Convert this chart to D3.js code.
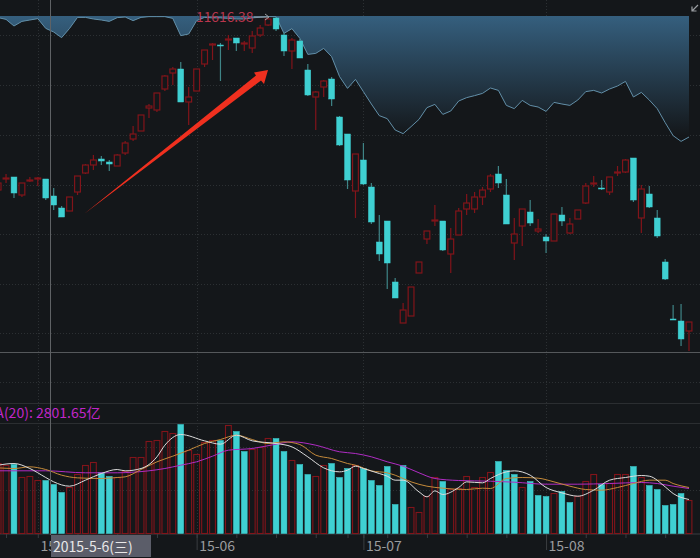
<!DOCTYPE html>
<html>
<head>
<meta charset="utf-8">
<script src="https://cdn.jsdelivr.net/npm/d3@7"></script>
<style>
html, body { margin: 0; padding: 0; background: #14171a; overflow: hidden; }
svg { display: block; font-family: "Noto Sans CJK SC", "Noto Sans", sans-serif; }
</style>
</head>
<body>
<svg></svg>
<script>
var width = 700;
var height = 558;

// trading days, the first two are cut by the left edge
var dates = ["04-24", "04-27", "04-28", "04-29", "04-30", "05-04", "05-05", "05-06", "05-07", "05-08",
    "05-11", "05-12", "05-13", "05-14", "05-15", "05-18", "05-19", "05-20", "05-21", "05-22",
    "05-25", "05-26", "05-27", "05-28", "05-29", "06-01", "06-02", "06-03", "06-04", "06-05",
    "06-08", "06-09", "06-10", "06-11", "06-12", "06-15", "06-16", "06-17", "06-18", "06-19",
    "06-23", "06-24", "06-25", "06-26", "06-29", "06-30", "07-01", "07-02", "07-03", "07-06",
    "07-07", "07-08", "07-09", "07-10", "07-13", "07-14", "07-15", "07-16", "07-17", "07-20",
    "07-21", "07-22", "07-23", "07-24", "07-27", "07-28", "07-29", "07-30", "07-31", "08-03",
    "08-04", "08-05", "08-06", "08-07", "08-10", "08-11", "08-12", "08-13", "08-14", "08-17",
    "08-18", "08-19", "08-20", "08-21", "08-24", "08-25", "08-26", "08-27"];

var open = [9020, 9185, 9215, 8945, 9155, 9185, 9185, 8930, 8750, 8705,
    8990, 9275, 9395, 9485, 9440, 9380, 9575, 9785, 9905, 10250,
    10220, 10535, 10775, 10835, 10340, 10505, 10910, 11195, 11195, 11270,
    11300, 11210, 11150, 11345, 11495, 11600, 11345, 11105, 11255, 10820,
    10415, 10565, 10685, 10115, 9860, 9005, 9470, 9065, 8240, 8555,
    7640, 7025, 7130, 7775, 8285, 8555, 8555, 8060, 8345, 8735,
    8735, 8915, 9035, 9260, 8945, 8225, 8480, 8690, 8405, 8315,
    8255, 8645, 8375, 8585, 8825, 9110, 9050, 8990, 9275, 9290,
    9500, 8600, 8960, 8600, 7940, 7085, 7055, 6905];
var close = [9125, 9200, 8975, 9125, 9170, 9200, 8900, 8795, 8615, 8915,
    9230, 9395, 9470, 9455, 9410, 9545, 9725, 9860, 10145, 10280,
    10475, 10730, 10835, 10340, 10415, 10835, 11120, 11210, 11180, 11285,
    11225, 11225, 11330, 11450, 11585, 11435, 11105, 11270, 11000, 10445,
    10490, 10655, 10385, 9695, 9170, 9560, 9110, 8540, 8060, 7925,
    7400, 7220, 7565, 7940, 8405, 8570, 8120, 8285, 8705, 8825,
    8915, 9020, 9230, 9125, 8510, 8360, 8735, 8525, 8435, 8255,
    8660, 8555, 8510, 8720, 9080, 9125, 9035, 9215, 9290, 9470,
    8870, 9035, 8765, 8330, 7685, 7070, 6785, 7040];
var high = [9125, 9260, 9215, 9125, 9215, 9215, 9185, 9050, 8780, 8915,
    9230, 9410, 9545, 9530, 9470, 9560, 9755, 9980, 10145, 10310,
    10475, 10745, 10865, 10940, 10565, 10835, 11120, 11225, 11225, 11345,
    11300, 11255, 11405, 11495, 11615, 11615, 11390, 11300, 11285, 10910,
    10505, 10670, 10715, 10130, 9860, 9560, 9725, 9125, 8645, 8555,
    7700, 7325, 7565, 7940, 8405, 8795, 8555, 8450, 8750, 8960,
    8990, 9065, 9260, 9380, 9185, 8600, 8735, 8870, 8585, 8360,
    8660, 8765, 8600, 8720, 9125, 9230, 9170, 9215, 9380, 9485,
    9500, 9095, 9080, 8720, 7985, 7295, 7310, 7040];
var low = [9020, 9125, 8900, 8915, 9140, 9080, 8870, 8720, 8615, 8705,
    8945, 9260, 9320, 9395, 9305, 9380, 9545, 9755, 9905, 10100,
    10190, 10505, 10595, 10340, 9995, 10505, 10865, 10970, 10655, 11120,
    11105, 11105, 11075, 11315, 11480, 11405, 11030, 10835, 11000, 10430,
    9920, 10415, 10280, 9680, 9035, 8600, 9095, 8510, 7955, 7535,
    7400, 7025, 7130, 7775, 8210, 8480, 8105, 7775, 8345, 8645,
    8675, 8795, 8990, 9050, 8510, 7970, 8180, 8480, 8375, 8075,
    8255, 8480, 8360, 8585, 8810, 9065, 9020, 8945, 9230, 9275,
    8840, 8375, 8750, 8300, 7670, 7070, 6680, 6605];

var volume = [3220, 3128, 3174, 2576, 2622, 2438, 2438, 2254, 1886, 2116,
    2714, 3128, 3266, 2806, 2622, 2576, 2852, 3496, 3496, 4232,
    4278, 4692, 4600, 5014, 3818, 3634, 4186, 4278, 4278, 4968,
    4692, 3772, 3864, 3956, 4370, 4370, 3772, 3358, 3174, 2714,
    2622, 3128, 3220, 2576, 2990, 3128, 2990, 2438, 2208, 3082,
    1334, 3128, 1196, 966, 1702, 2576, 2392, 2024, 2070, 2622,
    2116, 2576, 2806, 3312, 2898, 2714, 2116, 2392, 1748, 1702,
    1840, 1932, 1426, 1702, 2392, 2714, 2254, 2300, 2714, 2714,
    3082, 2576, 2208, 2024, 1288, 1334, 1840, 1518];
// days where the volume bar is teal (position in dates)
var volDown = [2, 6, 7, 8, 13, 14, 23, 28, 30, 31, 35, 36, 38, 39, 42, 43, 44, 46, 47, 48, 49, 50, 51,
    56, 63, 64, 65, 67, 68, 69, 71, 72, 76, 80, 82, 83, 84, 85, 86];

// the inverted overlay hanging from the top edge, percent of its own panel
var overlay = [1.3, 2.7, 8, 4.3, 3.2, 2.1, 9.9, 12.8, 17.3, 9.9,
    1.1, 1.1, 2.4, 3.2, 4.3, 1.3, 0.8, 3.7, 1.1, 0.5,
    0.5, 0.5, 1.9, 15.7, 14.4, 3.7, 1.1, 1.5, 1.5, 1.9,
    2.4, 2.4, 1.5, 1, 0.5, 0.5, 13.9, 10.1, 17.9, 30.7,
    29.9, 25.9, 32.5, 48.5, 57.9, 50.7, 60.5, 70.4, 79.7, 82.1,
    91.2, 94.1, 88.5, 82.7, 73.3, 70.7, 78.7, 76, 68, 65.3,
    63.7, 61.9, 57.6, 59.5, 71.5, 74.1, 67.5, 71.5, 72.8, 76.3,
    69.1, 70.4, 71.5, 67.2, 60.5, 59.5, 61.6, 58.4, 56, 52.3,
    64.8, 61.1, 67.2, 74.1, 85.3, 95.7, 100.3, 96.8];

// moving averages of volume, read at the days listed next to them
var ma5Days = [0, 2, 4, 6, 7, 9, 11, 13, 15, 16, 18, 20, 21, 23, 26, 28, 30, 32, 35, 37, 39, 41, 43, 44,
    45, 46, 48, 49, 50, 51, 53, 54, 55, 56, 58, 59, 61, 62, 64, 65, 67, 69, 71, 73, 75, 77, 79, 81, 82, 84, 85, 87];
var ma5 = [3143, 3220, 2990, 2576, 2376, 2177, 2453, 2760, 2944, 2882, 2990, 3526, 4062, 4553, 4262, 4109, 4523, 4262, 4140, 3986, 3526, 3020, 2836, 2913,
    3097, 2990, 2760, 2637, 2453, 2453, 1916, 1686, 1962, 1794, 2116, 2376, 2330, 2530, 2836, 2882, 2683, 2116, 1870, 1717, 1993, 2453, 2576, 2668, 2637, 2146, 1840, 1564];
var ma10Days = [0, 2, 4, 6, 8, 10, 13, 15, 16, 18, 20, 22, 24, 26, 28, 30, 32, 34, 36, 38, 40, 42, 44,
    45, 47, 49, 50, 52, 54, 56, 59, 61, 62, 64, 66, 68, 70, 72, 74, 76, 78, 80, 82, 84, 85, 87];
var ma10 = [3020, 2990, 3067, 2944, 2683, 2560, 2530, 2576, 2606, 2944, 3296, 3557, 3833, 4140, 4323, 4523, 4323, 4140, 4216, 4093, 3603, 3450, 3220,
    3143, 2882, 2790, 2683, 2376, 2177, 2085, 2024, 2085, 2070, 2530, 2576, 2545, 2376, 2177, 2024, 1993, 2116, 2300, 2453, 2453, 2300, 2116];
var ma20Days = [0, 6, 11, 15, 17, 21, 23, 25, 27, 29, 32, 35, 37, 40, 43,
    45, 47, 49, 51, 53, 55, 58, 62, 65, 69, 73, 77, 81, 83, 85, 87];
var ma20 = [2884, 2884, 2792, 2792, 2820, 2990, 3142, 3298, 3556, 3832, 3910, 4108, 4218, 4062, 3758,
    3680, 3528, 3298, 3096, 2792, 2530, 2438, 2406, 2360, 2268, 2268, 2300, 2346, 2300, 2176, 2070];

var monthTicks = ["06-01", "07-01", "08-03"];
var monthLabels = ["15-06", "15-07", "15-08"];
var weekTicks = ["04-27", "05-04", "05-11", "05-18", "05-25", "06-08", "06-15", "06-23", "06-29",
    "07-06", "07-13", "07-20", "07-27", "08-10", "08-17", "08-24"];
var gridPrices = [11345, 10595, 9845, 9095, 8360, 7610, 6875, 6140];
var gridVolumes = [4000, 2000];

var svg = d3.select('svg')
    .attr('width', width)
    .attr('height', height);

var x = d3.scalePoint().domain(dates).range([-1.9, 689]);
var y = d3.scaleLinear().domain([11870, 6590]).range([0, 352]);
var yVol = d3.scaleLinear().domain([0, 5014]).range([533.5, 424.5]);
var yOverlay = d3.scaleLinear().domain([0, 100]).range([16, 141]);

var up = function (i) { return close[i] >= open[i]; };
var red = '#82141a';
var teal = '#3fd0d2';
var idx = d3.range(dates.length);

var defs = svg.append('defs');
var grad = defs.append('linearGradient').attr('id', 'fade')
    .attr('gradientUnits', 'userSpaceOnUse')
    .attr('x1', 0).attr('y1', 16).attr('x2', 0).attr('y2', 136);
grad.append('stop').attr('offset', '0%').attr('stop-color', '#355f7e');
grad.append('stop').attr('offset', '100%').attr('stop-color', '#14171a');

// grid
svg.selectAll('.gridP').data(gridPrices).enter().append('line')
    .attr('x1', 0).attr('x2', width)
    .attr('y1', function (d) { return Math.round(y(d)) + 0.5; })
    .attr('y2', function (d) { return Math.round(y(d)) + 0.5; })
    .attr('stroke', '#2c3033').attr('stroke-dasharray', '1,2');
svg.selectAll('.gridV').data(gridVolumes).enter().append('line')
    .attr('x1', 0).attr('x2', width)
    .attr('y1', function (d) { return Math.round(yVol(d)) + 0.5; })
    .attr('y2', function (d) { return Math.round(yVol(d)) + 0.5; })
    .attr('stroke', '#2c3033').attr('stroke-dasharray', '1,2');
svg.selectAll('.gridM').data(["05-04"].concat(monthTicks)).enter().append('line')
    .attr('x1', function (d) { return Math.round(x(d)) + 0.5; })
    .attr('x2', function (d) { return Math.round(x(d)) + 0.5; })
    .attr('y1', 0).attr('y2', 534)
    .attr('stroke', '#2c3033').attr('stroke-dasharray', '1,2');

// overlay
var area = d3.area()
    .x(function (d) { return x(dates[d]); })
    .y0(yOverlay(0))
    .y1(function (d) { return yOverlay(overlay[d]); });
var line = d3.line()
    .x(function (d) { return x(dates[d]); })
    .y(function (d) { return yOverlay(overlay[d]); });
svg.append('path').attr('d', area(idx)).attr('fill', 'url(#fade)');
svg.append('path').attr('d', line(idx)).attr('fill', 'none')
    .attr('stroke', '#628fa8').attr('stroke-width', 1);

// panel lines
var rules = [[352.5, '#55585b'], [403.5, '#2b2e31'], [423.5, '#2b2e31'], [534, '#3a3d40']];
svg.selectAll('.rule').data(rules).enter().append('line')
    .attr('x1', 0).attr('x2', width)
    .attr('y1', function (d) { return d[0]; })
    .attr('y2', function (d) { return d[0]; })
    .attr('stroke', function (d) { return d[1]; });

// candles
var candle = svg.selectAll('.candle').data(idx).enter().append('g');
candle.append('line')
    .attr('x1', function (d) { return x(dates[d]); })
    .attr('x2', function (d) { return x(dates[d]); })
    .attr('y1', function (d) { return y(high[d]); })
    .attr('y2', function (d) { return y(low[d]); })
    .attr('stroke', function (d) { return up(d) ? red : '#3f8587'; })
    .attr('stroke-width', 1.2);
candle.append('rect')
    .attr('x', function (d) { return x(dates[d]) - 2.9; })
    .attr('width', 5.8)
    .attr('y', function (d) { return y(Math.max(open[d], close[d])); })
    .attr('height', function (d) { return Math.max(1, Math.abs(y(open[d]) - y(close[d]))); })
    .attr('fill', function (d) { return up(d) ? '#14171a' : teal; })
    .attr('stroke', function (d) { return up(d) ? red : teal; })
    .attr('stroke-width', function (d) { return up(d) ? 1.2 : 0.5; });

// volume
svg.selectAll('.vol').data(idx).enter().append('rect')
    .attr('x', function (d) { return x(dates[d]) - 2.9; })
    .attr('width', 5.8)
    .attr('y', function (d) { return yVol(volume[d]); })
    .attr('height', function (d) { return yVol(0) - yVol(volume[d]); })
    .attr('fill', function (d) { return volDown.indexOf(d) >= 0 ? teal : 'none'; })
    .attr('stroke', function (d) { return volDown.indexOf(d) >= 0 ? teal : red; })
    .attr('stroke-width', function (d) { return volDown.indexOf(d) >= 0 ? 0.5 : 1.1; });

var maLine = function (days, values, color) {
    var gen = d3.line()
        .curve(d3.curveMonotoneX)
        .x(function (d) { return x(dates[d]); })
        .y(function (d, i) { return yVol(values[i]); });
    svg.append('path').attr('d', gen(days)).attr('fill', 'none')
        .attr('stroke', color).attr('stroke-width', 1);
};
maLine(ma20Days, ma20, '#b02cc4');
maLine(ma10Days, ma10, '#c48a3a');
maLine(ma5Days, ma5, '#dcdcdc');

// time axis
var axisMonth = d3.axisBottom(x).tickValues(monthTicks).tickSize(16).tickFormat('');
var axisWeek = d3.axisBottom(x).tickValues(weekTicks.concat(monthTicks)).tickSize(4).tickFormat('');
[axisMonth, axisWeek].forEach(function (a) {
    var g = svg.append('g').attr('transform', 'translate(0,534)').call(a);
    g.select('.domain').remove();
    g.selectAll('line').attr('stroke', '#3a3d40');
});
svg.selectAll('.mon').data(monthTicks).enter().append('text')
    .attr('x', function (d) { return x(d) + 2.5; })
    .attr('y', 551)
    .attr('font-size', 14)
    .attr('fill', '#9a9c9e')
    .text(function (d, i) { return monthLabels[i]; });
svg.append('text').attr('x', 40.5).attr('y', 551).attr('font-size', 14)
    .attr('fill', '#9a9c9e').text('15-05');

// crosshair and labels
svg.append('line').attr('x1', 50.5).attr('x2', 50.5).attr('y1', 0).attr('y2', 535)
    .attr('stroke', '#5f6265');
svg.append('rect').attr('x', 51).attr('y', 535).attr('width', 100).attr('height', 22)
    .attr('fill', '#5b5d69');
svg.append('text').attr('x', 53).attr('y', 551.5).attr('font-size', 14)
    .attr('fill', '#e8e8e8').text('2015-5-6(三)');
svg.append('text').attr('x', -16).attr('y', 418).attr('font-size', 14)
    .attr('fill', '#c026c8').text('MA(20): 2801.65亿');

svg.append('text').attr('x', 196).attr('y', 22).attr('font-size', 13.8)
    .attr('fill', '#b8364d').text('11616.38');
svg.append('path').attr('d', 'M254,17H269M265,14l4,3l-4,3').attr('fill', 'none')
    .attr('stroke', '#9a9ea2');
svg.append('path').attr('d', 'M698,5L692,11M692,6.5V11H696.5').attr('fill', 'none')
    .attr('stroke', '#9a9ea2').attr('stroke-width', 1.2);

// hand drawn arrow on the screenshot
svg.append('path')
    .attr('d', 'M84,214L256,75.5L254,72.5L268,70L264,84L261,80.5Z')
    .attr('fill', '#f0301f');
</script>
</body>
</html>
